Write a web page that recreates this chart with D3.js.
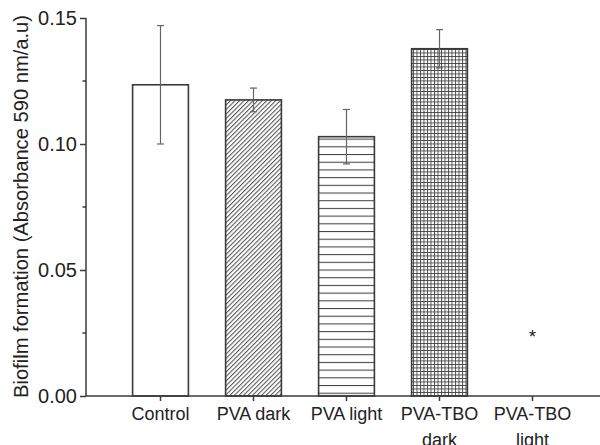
<!DOCTYPE html>
<html>
<head>
<meta charset="utf-8">
<script src="https://cdn.jsdelivr.net/npm/d3@7"></script>
<style>
  body { margin: 0; background: #fff; }
  svg { display: block; font-family: Arial, "Liberation Sans", sans-serif; }
</style>
</head>
<body>
<div id="chart"></div>
<script>
// data
const groups = ["Control", "PVA dark", "PVA light", "PVA-TBO dark", "PVA-TBO light"]
const means = [0.1235, 0.1175, 0.1029, 0.1378, 0]
const errs = [0.0235, 0.0047, 0.0108, 0.0076, 0]
const fills = ["none", "diag", "horiz", "grid", "none"]
const starAt = [null, null, null, null, 0.025]
const yTicks = [0, 0.05, 0.10, 0.15]
const yMinor = [0.025, 0.075, 0.125]

const w = 600
const h = 445

const svg = d3.select('#chart')
    .append('svg')
    .attr('width', w)
    .attr('height', h)

// patterns
const defs = svg.append('defs')
const ink = '#3a3a3a'

const diag = defs.append('pattern')
    .attr('id', 'diag')
    .attr('patternUnits', 'userSpaceOnUse')
    .attr('width', 3.2).attr('height', 3.2)
    .attr('patternTransform', 'rotate(45)')
diag.append('rect').attr('width', 3.2).attr('height', 3.2).attr('fill', '#fff')
diag.append('line')
    .attr('x1', 0.5).attr('y1', 0).attr('x2', 0.5).attr('y2', 3.2)
    .attr('stroke', '#555').attr('stroke-width', 1.1)

const horiz = defs.append('pattern')
    .attr('id', 'horiz')
    .attr('patternUnits', 'userSpaceOnUse')
    .attr('width', 10).attr('height', 7.7)
horiz.append('rect').attr('width', 10).attr('height', 7.7).attr('fill', '#fff')
horiz.append('line')
    .attr('x1', 0).attr('y1', 0.5).attr('x2', 10).attr('y2', 0.5)
    .attr('stroke', '#444').attr('stroke-width', 1.1)

const grid = defs.append('pattern')
    .attr('id', 'grid')
    .attr('patternUnits', 'userSpaceOnUse')
    .attr('width', 3.5).attr('height', 3.5)
grid.append('rect').attr('width', 3.5).attr('height', 3.5).attr('fill', '#fff')
grid.append('path')
    .attr('d', 'M0,0.5H3.5M0.5,0V3.5')
    .attr('stroke', '#444').attr('stroke-width', 0.9)

// scales
const x = d3.scaleBand()
    .domain(groups)
    .range([114, 579])
    .paddingInner(0.4)
    .paddingOuter(0.2)

const y = d3.scaleLinear()
    .domain([0, 0.15])
    .range([396, 18])

const cx = d => x(d) + x.bandwidth() / 2

// bars
svg.append('g')
    .selectAll('rect')
    .data(groups)
    .enter()
    .filter((d, i) => means[i] > 0)
    .append('rect')
    .attr('x', d => x(d))
    .attr('y', d => y(means[groups.indexOf(d)]))
    .attr('width', x.bandwidth())
    .attr('height', d => y(0) - y(means[groups.indexOf(d)]))
    .attr('fill', d => {
        const f = fills[groups.indexOf(d)]
        return f === 'none' ? '#fff' : 'url(#' + f + ')'
    })
    .attr('stroke', ink)
    .attr('stroke-width', 1.6)

// error bars
const eb = svg.append('g')
    .attr('stroke', '#666')
    .attr('stroke-width', 1.2)
groups.forEach((g, i) => {
    if (!errs[i]) return
    const top = y(means[i] + errs[i])
    const bot = y(means[i] - errs[i])
    eb.append('line').attr('x1', cx(g)).attr('x2', cx(g)).attr('y1', top).attr('y2', bot)
    eb.append('line').attr('x1', cx(g) - 3.5).attr('x2', cx(g) + 3.5).attr('y1', top).attr('y2', top)
    eb.append('line').attr('x1', cx(g) - 3.5).attr('x2', cx(g) + 3.5).attr('y1', bot).attr('y2', bot)
})

// significance mark
groups.forEach((g, i) => {
    if (starAt[i] == null) return
    svg.append('text')
        .attr('x', cx(g))
        .attr('y', y(starAt[i]) + 10)
        .attr('text-anchor', 'middle')
        .attr('font-size', 19)
        .attr('fill', '#222')
        .text('*')
})

// y axis
const yAxis = d3.axisLeft(y)
    .tickValues(yTicks)
    .tickFormat(d3.format('.2f'))
    .tickSize(6)
    .tickPadding(3)

const ya = svg.append('g')
    .attr('transform', 'translate(86,0)')
    .call(yAxis)
ya.selectAll('line, path').attr('stroke', ink).attr('stroke-width', 1.5)
ya.select('.domain').attr('d', 'M0,' + y(0.15) + 'V' + y(0))
ya.selectAll('text')
    .attr('font-size', 20)
    .attr('font-family', 'Arial, "Liberation Sans", sans-serif')
    .attr('fill', '#222')

ya.selectAll('.minor')
    .data(yMinor)
    .enter()
    .append('line')
    .attr('class', 'minor')
    .attr('x1', -3.5).attr('x2', 0)
    .attr('y1', d => y(d)).attr('y2', d => y(d))
    .attr('stroke', ink).attr('stroke-width', 1.5)

// x axis
const xa = svg.append('g')
    .attr('transform', 'translate(0,' + y(0) + ')')
xa.append('line')
    .attr('x1', 86).attr('x2', 600)
    .attr('stroke', ink).attr('stroke-width', 1.5)
xa.selectAll('.tick')
    .data(groups)
    .enter()
    .append('line')
    .attr('x1', d => cx(d)).attr('x2', d => cx(d))
    .attr('y1', 0).attr('y2', 5)
    .attr('stroke', ink).attr('stroke-width', 1.5)

const xl = xa.selectAll('.lbl')
    .data(groups)
    .enter()
    .append('text')
    .attr('x', d => cx(d))
    .attr('y', 24)
    .attr('text-anchor', 'middle')
    .attr('font-size', 18)
    .attr('fill', '#222')
xl.each(function (d) {
    const parts = d.startsWith('PVA-TBO') ? ['PVA-TBO', d.slice(8)] : [d]
    parts.forEach((p, k) => {
        d3.select(this).append('tspan')
            .attr('x', cx(d))
            .attr('dy', k === 0 ? 0 : 26)
            .text(p)
    })
})

// y title
svg.append('text')
    .attr('transform', 'translate(28,206.5) rotate(-90)')
    .attr('text-anchor', 'middle')
    .attr('font-size', 19.5)
    .attr('fill', '#222')
    .attr('textLength', 383)
    .attr('lengthAdjust', 'spacingAndGlyphs')
    .text('Biofilm formation (Absorbance 590 nm/a.u)')
</script>
</body>
</html>
